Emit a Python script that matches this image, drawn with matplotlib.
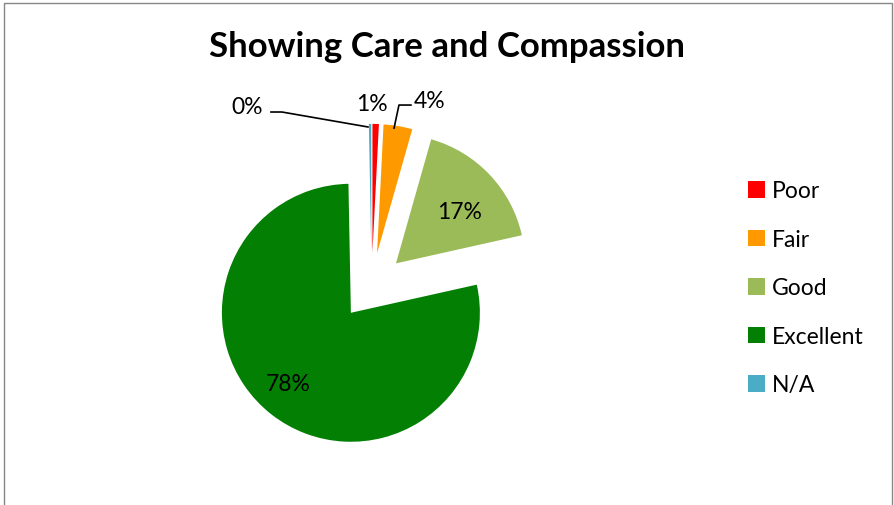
import matplotlib
matplotlib.use('Agg')

import matplotlib.pyplot as plt
from matplotlib.patches import Patch, Rectangle

categories = ['Poor', 'Fair', 'Good', 'Excellent', 'N/A']
shares = [0.8, 3.6, 17.1, 78.2, 0.3]
colors = ['#FF0000', '#FF9900', '#9BBB59', '#038003', '#4BACC6']

# label positions (pie radius units) for each slice
label_xy = [(0.003, 1.42), (0.453, 1.445), (0.685, 0.584), (-0.648, -0.749), (-0.966, 1.391)]

plt.rcParams['font.family'] = ['Lato', 'DejaVu Sans']

fig = plt.figure(figsize=(8.95, 5.06), dpi=100)
ax = fig.add_axes([0.1846, 0.0241, 0.4612, 0.8158])

wedges, _ = ax.pie(shares, colors=colors, startangle=90, counterclock=False,
                   explode=[0.26] * 5, radius=1,
                   wedgeprops=dict(linewidth=0))
ax.set_xlim(-1.6, 1.6)
ax.set_ylim(-1.6, 1.6)
ax.set_aspect('equal')
ax.axis('off')

for v, (x, y) in zip(shares, label_xy):
    ax.text(x, y, '%.0f%%' % v, ha='center', va='center', fontsize=16.5,
            color='black', clip_on=False)

# leader lines for the small slices
ax.plot([-0.780, -0.695, -0.028], [1.352, 1.352, 1.236], color='black', lw=1.2, clip_on=False)
ax.plot([0.174, 0.212, 0.305], [1.227, 1.406, 1.406], color='black', lw=1.2, clip_on=False)

fig.text(0.5, 0.907, 'Showing Care and Compassion', ha='center', va='center',
         fontsize=25, fontweight='bold')

handles = [Patch(facecolor=c, edgecolor='none') for c in colors]
fig.legend(handles, categories, loc='center left', bbox_to_anchor=(0.826, 0.429),
           frameon=False, fontsize=16.5, handlelength=0.72, handleheight=0.72,
           handletextpad=0.3, labelspacing=1.2, borderaxespad=0)

fig.patches.append(Rectangle((4 / 895, -0.05), 888 / 895, 1.05 - 4 / 506,
                             transform=fig.transFigure, fill=False,
                             edgecolor='#868686', lw=1))

plt.savefig('out.png', dpi=100)
